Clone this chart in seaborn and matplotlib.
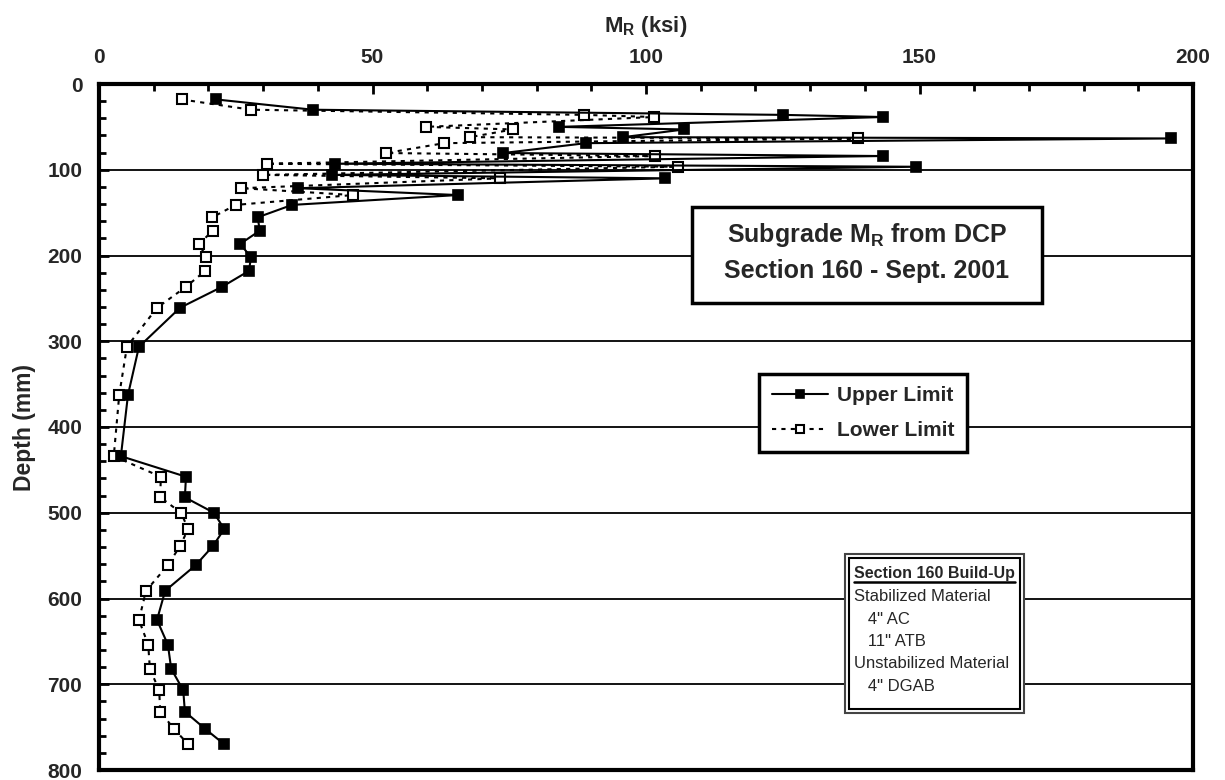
import matplotlib
matplotlib.use("Agg")
import matplotlib.pyplot as plt
import seaborn as sns
import pandas as pd
from matplotlib.patches import Rectangle
from matplotlib.lines import Line2D
from matplotlib.ticker import MultipleLocator

# ─── Data ───────────────────────────────────────────────────────────────────────

depth_mm = [18, 30, 36, 38.5, 50, 53, 62, 63.5, 69, 80.5, 84, 93, 96.5, 106, 110,
            121.5, 129.5, 141, 155.5, 171, 186.5, 202, 218, 236.5, 261, 306.5,
            362.5, 434, 458, 482, 500, 519, 539, 561, 591, 625, 654, 682, 707,
            732, 752, 770]
upper_ksi = [21.4, 39.1, 125, 143.3, 84.1, 107, 95.8, 196, 89, 73.9, 143.3, 43.1,
             149.4, 42.6, 103.5, 36.4, 65.6, 35.3, 29, 29.4, 25.8, 27.8, 27.4, 22.5,
             14.8, 7.3, 5.3, 4.0, 15.9, 15.7, 21.0, 22.9, 20.8, 17.7, 12.1, 10.6,
             12.6, 13.2, 15.4, 15.7, 19.4, 22.9]
lower_ksi = [15.1, 27.8, 88.7, 101.5, 59.8, 75.7, 67.8, 138.8, 63.1, 52.5, 101.6,
             30.7, 105.8, 30, 73.3, 26, 46.4, 25, 20.7, 20.8, 18.3, 19.6, 19.4, 15.9,
             10.6, 5.1, 3.7, 2.7, 11.3, 11.2, 15.0, 16.3, 14.8, 12.6, 8.6, 7.3, 9.0,
             9.3, 11.0, 11.2, 13.7, 16.3]

series_names = ["Upper Limit", "Lower Limit"]
x_ticks = [0, 50, 100, 150, 200]
y_ticks = [0, 100, 200, 300, 400, 500, 600, 700, 800]

title_lines = [r"Subgrade $\mathbf{M_R}$ from DCP", "Section 160 - Sept. 2001"]
buildup_title = "Section 160 Build-Up"
buildup_lines = ["Stabilized Material", '   4" AC', '   11" ATB',
                 "Unstabilized Material", '   4" DGAB']

# ─── Style ──────────────────────────────────────────────────────────────────────

sns.set_style("white")
plt.rcParams["font.family"] = ["Liberation Sans", "DejaVu Sans"]
plt.rcParams["font.weight"] = "bold"
plt.rcParams["mathtext.fontset"] = "custom"
plt.rcParams["mathtext.rm"] = "Liberation Sans:bold"
plt.rcParams["mathtext.bf"] = "Liberation Sans:bold"

W, H = 1225, 780
AX_L, AX_R, AX_T, AX_B = 99, 1193, 84, 770


def ax_x(px):
    return (px - AX_L) / (AX_R - AX_L)


def ax_y(py):
    return (AX_B - py) / (AX_B - AX_T)


fig = plt.figure(figsize=(W / 100, H / 100), dpi=100)
ax = fig.add_axes([AX_L / W, 1 - AX_B / H, (AX_R - AX_L) / W, (AX_B - AX_T) / H])

df = pd.DataFrame({"depth": depth_mm, "upper": upper_ksi, "lower": lower_ksi})

sns.lineplot(data=df, x="upper", y="depth", orient="y", sort=False, estimator=None,
             color="black", lw=1.5, marker="s", markersize=7.5,
             markerfacecolor="black", markeredgecolor="black", markeredgewidth=1.2,
             label=series_names[0], ax=ax, zorder=4)
sns.lineplot(data=df, x="lower", y="depth", orient="y", sort=False, estimator=None,
             color="black", lw=1.5, linestyle=(0, (2, 2.5)), marker="s", markersize=7.5,
             markerfacecolor="white", markeredgecolor="black", markeredgewidth=1.5,
             label=series_names[1], ax=ax, zorder=3)

# ─── Axes ───────────────────────────────────────────────────────────────────────

ax.set_xlim(0, 200)
ax.set_ylim(800, 0)
ax.set_xticks(x_ticks)
ax.set_yticks(y_ticks)
ax.xaxis.set_minor_locator(MultipleLocator(10))
ax.yaxis.set_minor_locator(MultipleLocator(20))
ax.tick_params(axis="x", which="both", direction="in", top=True, bottom=False,
               labeltop=True, labelbottom=False)
ax.tick_params(axis="y", which="both", direction="in", left=True, right=False)
ax.tick_params(which="major", length=7, width=2, labelsize=15, pad=12, color="black")
ax.tick_params(which="minor", length=5, width=2, color="black")

ax.grid(axis="y", which="major", color="black", lw=1.3)
ax.set_axisbelow(True)
for s in ax.spines.values():
    s.set_linewidth(3)
    s.set_color("black")

ax.xaxis.set_label_position("top")
ax.set_xlabel(r"$\mathbf{M_R}$ (ksi)", fontsize=16, fontweight="bold", labelpad=12)
ax.set_ylabel("Depth (mm)", fontsize=16.5, fontweight="bold", labelpad=8)

# ─── Legend ─────────────────────────────────────────────────────────────────────

leg = ax.legend(loc="center", bbox_to_anchor=(ax_x(863), ax_y(413)), frameon=True,
                fancybox=False, edgecolor="black", framealpha=1,
                prop=dict(weight="bold", size=15), handlelength=2.7,
                labelspacing=0.75, borderpad=0.6, handletextpad=0.4)
leg.get_frame().set_linewidth(2.5)
leg.set_zorder(6)
for h in leg.legend_handles:
    h.set_markersize(5.5)

# ─── Title box ──────────────────────────────────────────────────────────────────

ax.add_patch(Rectangle((ax_x(692), ax_y(303)), ax_x(1042) - ax_x(692), ax_y(207) - ax_y(303),
                       transform=ax.transAxes, facecolor="white", edgecolor="black",
                       lw=2.5, zorder=6))
for line, base in zip(title_lines, [242, 278]):
    ax.text(ax_x(867), ax_y(base), line, transform=ax.transAxes, ha="center",
            va="baseline", fontsize=18, fontweight="bold", zorder=7)

# ─── Build-up box ───────────────────────────────────────────────────────────────

ax.add_patch(Rectangle((ax_x(845), ax_y(713)), ax_x(1024) - ax_x(845), ax_y(554) - ax_y(713),
                       transform=ax.transAxes, facecolor="white", edgecolor="#444444",
                       lw=1.5, zorder=6))
ax.add_patch(Rectangle((ax_x(849), ax_y(709)), ax_x(1020) - ax_x(849), ax_y(558) - ax_y(709),
                       transform=ax.transAxes, facecolor="white", edgecolor="black",
                       lw=1.5, zorder=6))
t = ax.text(ax_x(854), ax_y(578), buildup_title, transform=ax.transAxes, ha="left",
            va="baseline", fontsize=11.5, fontweight="bold", zorder=7)
for i, line in enumerate(buildup_lines):
    ax.text(ax_x(854), ax_y(601 + 22.5 * i), line, transform=ax.transAxes, ha="left",
            va="baseline", fontsize=12, fontweight="normal", zorder=7)

fig.canvas.draw()
bb = t.get_window_extent(fig.canvas.get_renderer())
x0, _ = ax.transAxes.inverted().transform((bb.x0, 0))
x1, _ = ax.transAxes.inverted().transform((bb.x1, 0))
ax.add_line(Line2D([x0, x1], [ax_y(582), ax_y(582)], transform=ax.transAxes,
                   color="black", lw=1.8, zorder=7))

fig.savefig("out.png", dpi=100)
